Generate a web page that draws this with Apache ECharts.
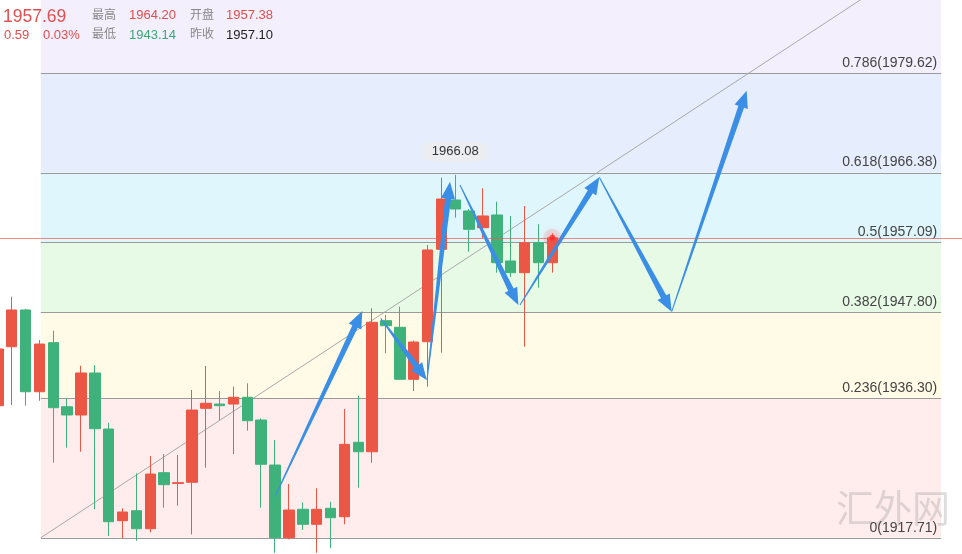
<!DOCTYPE html>
<html><head><meta charset="utf-8">
<script src="https://cdn.jsdelivr.net/npm/echarts@6/dist/echarts.min.js"></script>
<style>html,body{margin:0;padding:0;background:#fff}#c{width:962px;height:554px}</style>
</head><body><div id="c"></div>
<script>
// ---- candle data (x index, open, close, low, high) ----
const candleIndex = [0,1,2,3,4,5,6,7,8,9,10,11,12,13,14,15,16,17,18,19,20,21,22,23,24,25,26,27,28,29,30,31,32,33,34,35,36,37,38,39,40];
const opens  = [1935.31,1943.17,1948.07,1937.17,1943.71,1935.17,1934.07,1939.67,1932.20,1919.98,1921.31,1918.91,1926.38,1924.95,1925.10,1934.96,1935.53,1935.53,1936.43,1933.40,1927.40,1917.71,1921.50,1919.50,1921.63,1920.51,1930.43,1929.17,1946.64,1945.76,1938.83,1943.84,1956.16,1962.73,1961.27,1959.04,1960.73,1954.60,1953.04,1957.04,1954.37];
const closes = [1942.87,1948.07,1937.17,1943.53,1935.04,1934.07,1939.67,1932.24,1919.84,1921.14,1918.91,1926.20,1924.78,1925.05,1934.73,1935.63,1935.31,1936.43,1933.31,1927.50,1917.71,1921.40,1919.50,1921.50,1920.38,1930.16,1929.17,1946.43,1945.97,1938.83,1943.80,1956.07,1962.86,1961.53,1958.82,1960.60,1954.37,1953.04,1957.04,1954.37,1957.69];
const lows   = [1934.80,1935.40,1935.31,1935.97,1927.71,1929.71,1929.17,1921.50,1917.94,1917.63,1917.31,1918.43,1921.71,1921.98,1918.16,1927.04,1933.40,1928.87,1931.98,1921.71,1915.70,1917.50,1918.74,1915.70,1916.30,1919.50,1924.38,1927.71,1942.29,1938.73,1937.27,1937.84,1942.37,1960.37,1955.84,1957.62,1953.04,1952.47,1943.17,1951.04,1953.04];
const highs  = [1943.50,1949.84,1948.20,1944.07,1945.31,1936.29,1940.64,1940.73,1933.04,1921.63,1926.30,1928.60,1928.87,1928.73,1937.40,1940.60,1937.26,1937.84,1938.29,1933.63,1930.73,1924.87,1922.43,1924.30,1922.51,1934.87,1936.64,1948.29,1947.40,1948.50,1943.97,1956.73,1965.70,1966.08,1961.53,1964.29,1962.50,1960.60,1961.93,1959.49,1958.29];

// ---- fibonacci tool ----
const fibStartIndex = 3.1;
const fibEndIndex = 68.05;
const fibRatios = [0, 0.236, 0.382, 0.5, 0.618, 0.786, 1];
const fibPrices = [1917.71, 1936.30, 1947.80, 1957.09, 1966.38, 1979.62, 1996.47];

// ---- last price ----
const lastPrice = 1957.69;
const lastIndex = 40;

// ---- hand drawn arrows (start index, start price, end index, end price) ----
const arrowStartIdx   = [19.99, 27.62, 30.96, 33.34, 37.67, 43.39, 48.61];
const arrowStartPrice = [1923.18, 1946.96, 1938.73, 1964.73, 1948.73, 1965.76, 1947.84];
const arrowEndIdx     = [26.29, 30.94, 32.62, 37.55, 43.39, 48.61, 54.02];
const arrowEndPrice   = [1947.93, 1938.73, 1965.17, 1948.73, 1965.76, 1947.84, 1977.30];

// ---- header ----
const headerPrice = '1957.69';
const headerChange = '0.59';
const headerChangePct = '0.03%';
const headerLabels = ['最高', '开盘', '最低', '昨收'];
const headerValues = ['1964.20', '1957.38', '1943.14', '1957.10'];

const bandColors = ['#ffeded', '#fffbe6', '#e7fae6', '#dff6fc', '#e6edfc', '#f3effc'];
const RED = '#ec5645', GREEN = '#3fb27b';
const FONT = '"Liberation Sans","Noto Sans CJK SC",sans-serif';

const candleData = candleIndex.map((x, i) => [x, opens[i], closes[i], lows[i], highs[i]]);
const fibData = fibRatios.slice(0, -1).map((r, k) => [fibStartIndex, fibPrices[k], fibEndIndex, fibPrices[k + 1], r]);
const arrowData = arrowStartIdx.map((x, i) => [x, arrowStartPrice[i], arrowEndIdx[i], arrowEndPrice[i]]);

const chart = echarts.init(document.getElementById('c'));
chart.setOption({
  animation: false,
  grid: { left: 0, right: 0, top: 0, bottom: 0 },
  xAxis: { type: 'value', min: 0.156, max: 69.554, show: false },
  yAxis: { type: 'value', min: 1915.54, max: 1989.39, show: false, scale: true },
  graphic: [
    { type: 'text', z: 2, left: 836, top: 489, silent: true,
      style: { text: '汇外网', font: '38px "Noto Sans CJK SC"', fill: 'rgba(150,150,150,0.32)' } },
    { type: 'text', z: 10, x: 3, y: 17, style: { text: headerPrice, font: '17.5px ' + FONT, fill: '#e04f4f', verticalAlign: 'middle' } },
    { type: 'text', z: 10, x: 4, y: 35, style: { text: headerChange, font: '13px ' + FONT, fill: '#e04f4f', verticalAlign: 'middle' } },
    { type: 'text', z: 10, x: 43, y: 35, style: { text: headerChangePct, font: '13px ' + FONT, fill: '#e04f4f', verticalAlign: 'middle' } },
    { type: 'text', z: 10, x: 92, y: 15.5, style: { text: headerLabels[0], font: '12px ' + FONT, fill: '#888', verticalAlign: 'middle' } },
    { type: 'text', z: 10, x: 129, y: 15.5, style: { text: headerValues[0], font: '13px ' + FONT, fill: '#e04f4f', verticalAlign: 'middle' } },
    { type: 'text', z: 10, x: 190, y: 15.5, style: { text: headerLabels[1], font: '12px ' + FONT, fill: '#888', verticalAlign: 'middle' } },
    { type: 'text', z: 10, x: 226, y: 15.5, style: { text: headerValues[1], font: '13px ' + FONT, fill: '#e04f4f', verticalAlign: 'middle' } },
    { type: 'text', z: 10, x: 92, y: 35, style: { text: headerLabels[2], font: '12px ' + FONT, fill: '#888', verticalAlign: 'middle' } },
    { type: 'text', z: 10, x: 129, y: 35, style: { text: headerValues[2], font: '13px ' + FONT, fill: '#3aa776', verticalAlign: 'middle' } },
    { type: 'text', z: 10, x: 190, y: 35, style: { text: headerLabels[3], font: '12px ' + FONT, fill: '#888', verticalAlign: 'middle' } },
    { type: 'text', z: 10, x: 226, y: 35, style: { text: headerValues[3], font: '13px ' + FONT, fill: '#222', verticalAlign: 'middle' } }
  ],
  series: [
    { // fib bands + lines
      type: 'custom', z: 1, silent: true, clip: false,
      data: fibData, encode: { x: [0, 2], y: [1, 3] },
      renderItem(params, api) {
        const k = params.dataIndex;
        const p0 = api.coord([api.value(0), api.value(1)]);
        const p1 = api.coord([api.value(2), api.value(3)]);
        const y = Math.round(p0[1]) + 0.5;
        return { type: 'group', children: [
          { type: 'rect', shape: { x: p0[0], y: p1[1], width: p1[0] - p0[0], height: p0[1] - p1[1] }, style: { fill: bandColors[k] } },
          { type: 'line', shape: { x1: p0[0], y1: y, x2: p1[0], y2: y }, style: { stroke: '#9a9a9a', lineWidth: 1 } }
        ] };
      }
    },
    { // fib labels
      type: 'custom', z: 3, silent: true, clip: false,
      data: fibData, encode: { x: [0, 2], y: [1, 3] },
      renderItem(params, api) {
        const p0 = api.coord([api.value(0), api.value(1)]);
        const p1 = api.coord([api.value(2), api.value(3)]);
        return { type: 'text', style: { text: api.value(4) + '(' + api.value(1).toFixed(2) + ')', x: p1[0] - 4, y: p0[1] - 3,
          align: 'right', verticalAlign: 'bottom', fill: '#444', font: '14px ' + FONT } };
      }
    },
    { // fib diagonal
      type: 'line', z: 3, silent: true, symbol: 'none',
      data: [[fibStartIndex, fibPrices[0]], [fibEndIndex, fibPrices[fibPrices.length - 1]]],
      lineStyle: { color: '#a8a8a8', width: 1 }
    },
    {
      type: 'candlestick', z: 4, barWidth: 11,
      data: candleData,
      itemStyle: { color: RED, color0: GREEN, borderColor: RED, borderColor0: GREEN, borderWidth: 1 },
      markPoint: {
        symbol: 'roundRect', symbolSize: [66, 20], symbolOffset: [0, -23],
        itemStyle: { color: 'rgba(236,236,238,0.8)' },
        label: { show: true, color: '#333', fontSize: 13, fontFamily: FONT, formatter: p => p.value.toFixed(2) },
        data: [{ type: 'max', valueDim: 'highest' }]
      },
      markLine: {
        silent: true, symbol: 'none', label: { show: false },
        lineStyle: { color: 'rgba(232,90,90,0.7)', width: 1, type: 'solid' },
        data: [{ yAxis: lastPrice }]
      }
    },
    { // arrows
      type: 'custom', z: 6, silent: true, clip: false,
      data: arrowData, encode: { x: [0, 2], y: [1, 3] },
      renderItem(params, api) {
        const P = api.coord([api.value(0), api.value(1)]);
        const Q = api.coord([api.value(2), api.value(3)]);
        const dx = Q[0] - P[0], dy = Q[1] - P[1];
        const L = Math.sqrt(dx * dx + dy * dy);
        const ux = dx / L, uy = dy / L, nx = -uy, ny = ux;
        const h = 17, hw = 7, w1 = 3, w0 = 0.5;
        const B = [Q[0] - ux * h, Q[1] - uy * h];
        const pts = [
          [P[0] + nx * w0, P[1] + ny * w0],
          [B[0] + nx * w1, B[1] + ny * w1],
          [B[0] + nx * hw, B[1] + ny * hw],
          [Q[0], Q[1]],
          [B[0] - nx * hw, B[1] - ny * hw],
          [B[0] - nx * w1, B[1] - ny * w1],
          [P[0] - nx * w0, P[1] - ny * w0]
        ];
        return { type: 'polygon', shape: { points: pts }, style: { fill: '#3a8ee6' } };
      }
    },
    { // last price halo
      type: 'scatter', z: 7, silent: true,
      data: [[lastIndex, lastPrice]], symbolSize: 18,
      itemStyle: { color: 'rgba(255,80,80,0.18)' }
    },
    { // last price dot
      type: 'scatter', z: 8, silent: true,
      data: [[lastIndex, lastPrice]], symbolSize: 6,
      itemStyle: { color: '#ff2d2d', shadowBlur: 8, shadowColor: 'rgba(255,60,60,0.8)' }
    }
  ]
});
</script></body></html>
